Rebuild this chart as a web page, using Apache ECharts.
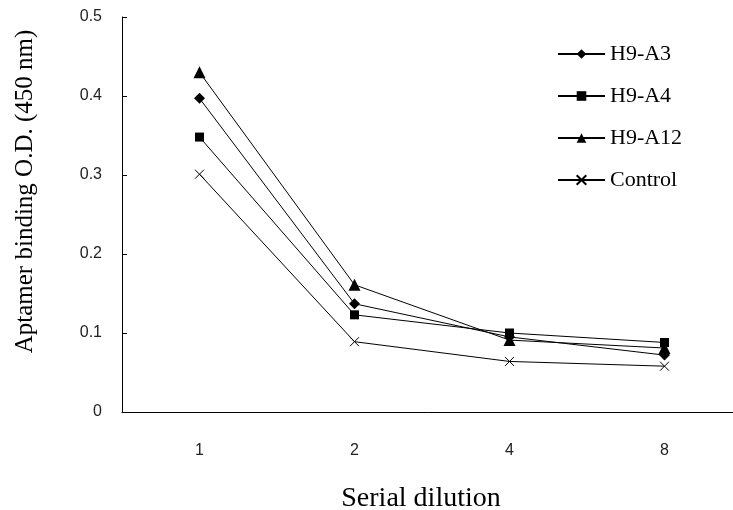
<!DOCTYPE html>
<html>
<head>
<meta charset="utf-8">
<script src="https://cdn.jsdelivr.net/npm/echarts@6/dist/echarts.min.js"></script>
<style>html,body{margin:0;padding:0;background:#fff;}#c{width:733px;height:510px;}</style>
</head>
<body>
<div id="c"></div>
<script>
var categories = ['1', '2', '4', '8'];
var seriesNames = ['H9-A3', 'H9-A4', 'H9-A12', 'Control'];
var a3 = [0.397, 0.137, 0.095, 0.072];
var a4 = [0.348, 0.123, 0.100, 0.088];
var a12 = [0.430, 0.161, 0.091, 0.081];
var control = [0.301, 0.089, 0.064, 0.058];
var yTicks = [0, 0.1, 0.2, 0.3, 0.4, 0.5];

var crossPath = 'path://M0,0L10,10M10,0L0,10';
function mk(name, data, symbol, size, hollow) {
  return {
    name: name, type: 'line', data: data, symbol: symbol, symbolSize: size,
    showAllSymbol: true,
    lineStyle: { color: '#000', width: 1 },
    itemStyle: hollow ? { color: 'rgba(0,0,0,0)', borderColor: '#000', borderWidth: 1 } : { color: '#000', borderWidth: 0 },
    emphasis: { disabled: true },
    animation: false
  };
}
var chart = echarts.init(document.getElementById('c'));
chart.setOption({
  backgroundColor: '#fff',
  animation: false,
  grid: { left: 122, top: 17, width: 620, height: 395, outerBoundsMode: 'none', containLabel: false },
  legend: {
    orient: 'vertical', left: 552, top: 37, itemWidth: 47, itemHeight: 12, itemGap: 18,
    data: seriesNames,
    textStyle: { fontFamily: 'Liberation Serif', fontSize: 22, color: '#000', lineHeight: 24 }
  },
  xAxis: {
    type: 'category', data: categories, boundaryGap: true,
    name: 'Serial dilution', nameLocation: 'middle', nameGap: 73,
    nameTextStyle: { fontFamily: 'Liberation Serif', fontSize: 28, color: '#000', padding: [0, 22, 0, 0] },
    axisLine: { lineStyle: { color: '#000', width: 1 } },
    axisTick: { inside: true, length: 5, lineStyle: { color: '#000' } },
    axisLabel: { margin: 31, fontFamily: 'Liberation Sans', fontSize: 16, color: '#222' }
  },
  yAxis: {
    type: 'value', min: 0, max: 0.5, interval: 0.1,
    name: 'Aptamer binding O.D. (450 nm)', nameLocation: 'middle', nameGap: 84,
    nameTextStyle: { fontFamily: 'Liberation Serif', fontSize: 25, color: '#000', padding: [0, 0, 0, 46] },
    axisLine: { show: true, lineStyle: { color: '#000', width: 1 } },
    axisTick: { show: true, inside: true, length: 5, lineStyle: { color: '#000' } },
    splitLine: { show: false },
    axisLabel: { margin: 20, fontFamily: 'Liberation Sans', fontSize: 16, color: '#222',
      formatter: function (v) { var t = yTicks.find(function (x) { return Math.abs(x - v) < 1e-9; }); return t === 0 ? '0' : String(t); } }
  },
  series: [
    mk(seriesNames[0], a3, 'diamond', 11, false),
    mk(seriesNames[1], a4, 'rect', 9, false),
    mk(seriesNames[2], a12, 'triangle', 12, false),
    mk(seriesNames[3], control, crossPath, 9, true)
  ]
});
</script>
</body>
</html>
